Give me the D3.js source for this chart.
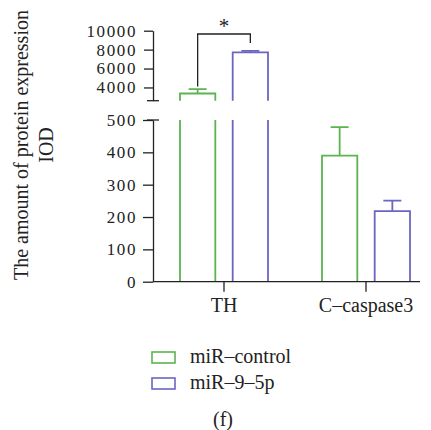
<!DOCTYPE html>
<html>
<head>
<meta charset="utf-8">
<script src="https://cdn.jsdelivr.net/npm/d3@7"></script>
<style>
  body { margin: 0; background: #fff; }
  svg text { font-family: "Liberation Serif", "DejaVu Serif", serif; fill: #222; }
</style>
</head>
<body>
<svg id="chart" width="431" height="430"></svg>
<script>
// data
const categories = ["TH", "C\u2013caspase3"];
const seriesNames = ["miR\u2013control", "miR\u20139\u20135p"];
const seriesColors = ["#5bb450", "#6a66c2"];
const controlMeans = [3360, 390];
const controlErrors = [460, 88];
const mirMeans = [7715, 218];
const mirErrors = [150, 33];
const upperTicks = [4000, 6000, 8000, 10000];
const lowerTicks = [0, 100, 200, 300, 400, 500];
const sigBracket = { category: "TH", top: 9650, leftEnd: 4100, rightEnd: 8700, label: "*" };

const svg = d3.select("#chart");
const axisX = 153;
const ink = "#222";
const fontSize = 20;

const x = d3.scaleBand().domain(categories).range([axisX, 437]);
const sub = d3.scaleBand().domain([0, 1]).range([-44, 44]).paddingInner(0.33);
const yLow = d3.scaleLinear().domain([0, 500]).range([281.7, 120]);
const yUp = d3.scaleLinear().domain([2600, 10000]).range([100.7, 30.7]);
const lowMax = yLow.domain()[1];
const upMin = yUp.domain()[0];

const data = categories.flatMap((c, i) => [
    { cat: c, s: 0, mean: controlMeans[i], err: controlErrors[i] },
    { cat: c, s: 1, mean: mirMeans[i], err: mirErrors[i] },
]);
const barX = (d) => x(d.cat) + x.bandwidth() / 2 + sub(d.s);

// bars, split across the axis break
const bars = svg.append("g").attr("fill", "none").attr("stroke-width", 1.8);
bars.selectAll("path.low")
    .data(data)
    .join("path")
    .attr("class", "low")
    .attr("stroke", (d) => seriesColors[d.s])
    .attr("d", (d) => {
        const x0 = barX(d), x1 = x0 + sub.bandwidth();
        const b = yLow(0);
        if (d.mean > lowMax) {
            const t = yLow(lowMax);
            return `M${x0},${b}V${t}M${x1},${t}V${b}`;
        }
        return `M${x0},${b}V${yLow(d.mean)}H${x1}V${b}`;
    });
bars.selectAll("path.up")
    .data(data.filter((d) => d.mean > upMin))
    .join("path")
    .attr("class", "up")
    .attr("stroke", (d) => seriesColors[d.s])
    .attr("d", (d) => {
        const x0 = barX(d), x1 = x0 + sub.bandwidth();
        const b = yUp(upMin);
        return `M${x0},${b}V${yUp(d.mean)}H${x1}V${b}`;
    });

// error bars (upper half only)
const capW = 18;
bars.selectAll("path.err")
    .data(data)
    .join("path")
    .attr("class", "err")
    .attr("stroke", (d) => seriesColors[d.s])
    .attr("d", (d) => {
        const y = d.mean > lowMax ? yUp : yLow;
        const cx = barX(d) + sub.bandwidth() / 2;
        const y0 = y(d.mean), y1 = y(d.mean + d.err);
        return `M${cx},${y0}V${y1}M${cx - capW / 2},${y1}H${cx + capW / 2}`;
    });

// y axes
const styleAxis = (g, size) => {
    g.selectAll("path, line").attr("stroke", ink).attr("stroke-width", 1.3);
    g.selectAll("text").attr("font-size", size).attr("fill", ink)
        .style("font-family", '"Liberation Serif", serif');
};
svg.append("g")
    .attr("transform", `translate(${axisX},0)`)
    .call(d3.axisLeft(yLow).tickValues(lowerTicks).tickSize(10).tickSizeOuter(0).tickPadding(6))
    .call(styleAxis, 17)
    .selectAll("text").attr("letter-spacing", 1.6);
svg.append("g")
    .attr("transform", `translate(${axisX},0)`)
    .call(d3.axisLeft(yUp).tickValues(upperTicks).tickFormat(d3.format("d"))
        .tickSize(9).tickSizeOuter(0).tickPadding(7))
    .call(styleAxis, 17)
    .selectAll("text").attr("letter-spacing", 1.6);

// break caps
svg.append("g")
    .attr("stroke", ink).attr("stroke-width", 1.3)
    .selectAll("line")
    .data([yUp(upMin), yLow(lowMax)])
    .join("line")
    .attr("x1", axisX - 6).attr("x2", axisX + 6)
    .attr("y1", (d) => d).attr("y2", (d) => d);

// x axis
const xAxis = svg.append("g")
    .attr("transform", `translate(0,${yLow(0)})`)
    .call(d3.axisBottom(x).tickSize(10).tickPadding(6))
    .call(styleAxis, fontSize);
xAxis.select(".domain").remove();
xAxis.append("line")
    .attr("x1", axisX).attr("x2", 420)
    .attr("stroke", ink).attr("stroke-width", 1.3);

// significance bracket
const bx0 = x(sigBracket.category) + x.bandwidth() / 2 + sub(0) + sub.bandwidth() / 2;
const bx1 = x(sigBracket.category) + x.bandwidth() / 2 + sub(1) + sub.bandwidth() / 2;
svg.append("path")
    .attr("fill", "none").attr("stroke", ink).attr("stroke-width", 1.3)
    .attr("d", `M${bx0},${yUp(sigBracket.leftEnd)}V${yUp(sigBracket.top)}H${bx1}V${yUp(sigBracket.rightEnd)}`);
svg.append("text")
    .attr("x", (bx0 + bx1) / 2).attr("y", yUp(sigBracket.top) - 1)
    .attr("text-anchor", "middle").attr("font-size", 21)
    .text(sigBracket.label);

// y title
const title = svg.append("g").attr("transform", "translate(0,145) rotate(-90)");
title.append("text").attr("y", 28).attr("text-anchor", "middle").attr("font-size", fontSize)
    .text("The amount of protein expression");
title.append("text").attr("y", 53).attr("text-anchor", "middle").attr("font-size", fontSize)
    .text("IOD");

// legend
const legend = svg.append("g").selectAll("g")
    .data(seriesNames)
    .join("g")
    .attr("transform", (d, i) => `translate(152,${352 + i * 26})`);
legend.append("rect")
    .attr("width", 23).attr("height", 11)
    .attr("fill", "none").attr("stroke-width", 1.6)
    .attr("stroke", (d, i) => seriesColors[i]);
legend.append("text")
    .attr("x", 38).attr("y", 10.5).attr("font-size", fontSize)
    .text((d) => d);

svg.append("text")
    .attr("x", 223).attr("y", 426)
    .attr("text-anchor", "middle").attr("font-size", fontSize)
    .text("(f)");
</script>
</body>
</html>
